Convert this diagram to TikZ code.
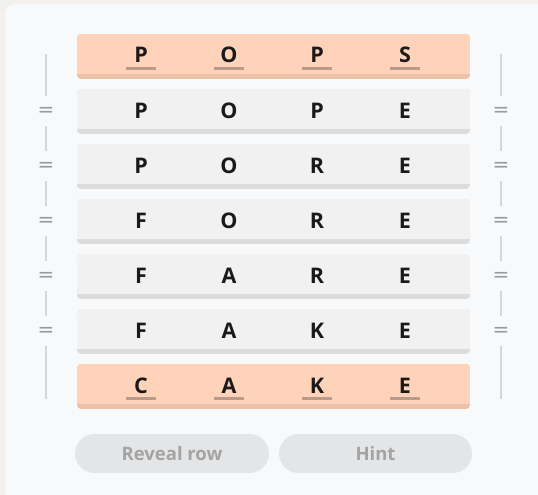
\documentclass[tikz,border=0pt]{standalone}
\usepackage{fontspec}
\setmainfont{Open Sans}
\newfontfamily\dejav{DejaVu Sans}
\definecolor{outerbg}{HTML}{F2F1ED}
\definecolor{panelbg}{HTML}{F8F9FB}
\definecolor{peach}{HTML}{FFD3B9}
\definecolor{peachdark}{HTML}{EEC0A8}
\definecolor{rowgray}{HTML}{F1F1F1}
\definecolor{rowgraydark}{HTML}{DCDCDD}
\definecolor{underln}{HTML}{BC9A8A}
\definecolor{sideln}{HTML}{D6D6D6}
\definecolor{eqgray}{HTML}{9A9A9A}
\definecolor{btnbg}{HTML}{E4E5E7}
\definecolor{btntxt}{HTML}{A3A3A3}
\definecolor{lettercol}{HTML}{1A1A1A}
\tikzset{
  letter/.style={anchor=base, inner sep=0pt, text=lettercol, font=\bfseries\fontsize{21.5}{22}\selectfont},
  uline/.style={draw=underln, line width=3pt},
  sideline/.style={draw=sideln, line width=1.8pt},
  eqsign/.style={inner sep=0pt, text=eqgray, font=\dejav\fontsize{20}{20}\selectfont},
  btn/.style={fill=btnbg, rounded corners=19.5pt},
  btnlabel/.style={inner sep=0pt, text=btntxt, font=\bfseries\fontsize{18.5}{19}\selectfont},
}
\newcommand{\wordrow}[6]{%
  \pgfmathsetmacro{\rt}{34+55*#1}
  \ifnum#2=1
    \def\rmain{peach}\def\rdark{peachdark}
  \else
    \def\rmain{rowgray}\def\rdark{rowgraydark}
  \fi
  \begin{scope}
    \clip[rounded corners=4pt] (77,\rt) rectangle (470,\rt+45);
    \fill[\rdark] (77,\rt) rectangle (470,\rt+45);
    \fill[\rmain] (77,\rt) rectangle (470,\rt+40);
  \end{scope}
  \node[letter] (r#1a) at (141,\rt+29) {#3};
  \node[letter] (r#1b) at (229,\rt+29) {#4};
  \node[letter] (r#1c) at (317,\rt+29) {#5};
  \node[letter] (r#1d) at (405,\rt+29) {#6};
  \ifnum#2=1
    \foreach \xx in {141,229,317,405}{\draw[uline] (\xx-15,\rt+34.5) -- (\xx+15,\rt+34.5);}
  \fi
}
\begin{document}
\begin{tikzpicture}[x=1pt,y=-1pt]
\useasboundingbox (0,0) rectangle (538,495);
\fill[outerbg] (0,0) rectangle (538,495);
\fill[panelbg, rounded corners=10pt] (5,4) rectangle (580,540);
\foreach \sx/\sn in {46/l,501/r}{
  \coordinate (\sn s0) at (\sx,54);
  \coordinate (\sn e0) at (\sx,96);
  \draw[sideline] (\sn s0) -- (\sn e0);
  \foreach \k in {0,...,4}{
    \pgfmathsetmacro{\ey}{112+55*\k}
    \node[eqsign] (\sn eq\k) at (\sx,\ey) {=};
  }
  \foreach \a/\b in {126/151,181/206,236/261,291/316,346/399}{
    \coordinate (\sn s\a) at (\sx,\a);
    \coordinate (\sn e\a) at (\sx,\b);
    \draw[sideline] (\sn s\a) -- (\sn e\a);
  }
}
\wordrow{0}{1}{P}{O}{P}{S}
\wordrow{1}{0}{P}{O}{P}{E}
\wordrow{2}{0}{P}{O}{R}{E}
\wordrow{3}{0}{F}{O}{R}{E}
\wordrow{4}{0}{F}{A}{R}{E}
\wordrow{5}{0}{F}{A}{K}{E}
\wordrow{6}{1}{C}{A}{K}{E}
\fill[btn] (75,434) rectangle (269,473);
\node[btnlabel] (reveal) at (172,454) {Reveal row};
\fill[btn] (279,434) rectangle (472,473);
\node[btnlabel] (hint) at (375.5,454) {Hint};
\end{tikzpicture}
\end{document}
